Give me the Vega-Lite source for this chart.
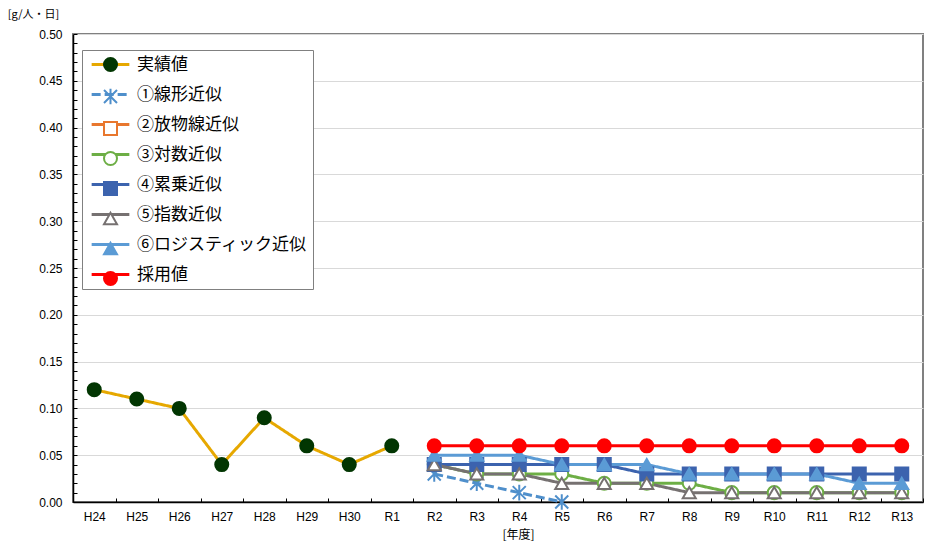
{
  "$schema": "https://vega.github.io/schema/vega-lite/v6.json",
  "width": 850,
  "height": 468,
  "autosize": {"type": "none"},
  "padding": {"left": 73, "top": 34, "right": 4, "bottom": 45},
  "background": "white",
  "config": {
    "view": {"stroke": "#808080", "strokeWidth": 2},
    "font": "Noto Sans CJK JP"
  },
  "data": {
    "values": [
      {"year": "H24", "series": "実績値", "value": 0.12},
      {"year": "H25", "series": "実績値", "value": 0.11},
      {"year": "H26", "series": "実績値", "value": 0.10},
      {"year": "H27", "series": "実績値", "value": 0.04},
      {"year": "H28", "series": "実績値", "value": 0.09},
      {"year": "H29", "series": "実績値", "value": 0.06},
      {"year": "H30", "series": "実績値", "value": 0.04},
      {"year": "R1", "series": "実績値", "value": 0.06},
      {"year": "R2", "series": "①線形近似", "value": 0.03},
      {"year": "R3", "series": "①線形近似", "value": 0.02},
      {"year": "R4", "series": "①線形近似", "value": 0.01},
      {"year": "R5", "series": "①線形近似", "value": 0.00},
      {"year": "R2", "series": "③対数近似", "value": 0.04},
      {"year": "R3", "series": "③対数近似", "value": 0.03},
      {"year": "R4", "series": "③対数近似", "value": 0.03},
      {"year": "R5", "series": "③対数近似", "value": 0.03},
      {"year": "R6", "series": "③対数近似", "value": 0.02},
      {"year": "R7", "series": "③対数近似", "value": 0.02},
      {"year": "R8", "series": "③対数近似", "value": 0.02},
      {"year": "R9", "series": "③対数近似", "value": 0.01},
      {"year": "R10", "series": "③対数近似", "value": 0.01},
      {"year": "R11", "series": "③対数近似", "value": 0.01},
      {"year": "R12", "series": "③対数近似", "value": 0.01},
      {"year": "R13", "series": "③対数近似", "value": 0.01},
      {"year": "R2", "series": "④累乗近似", "value": 0.04},
      {"year": "R3", "series": "④累乗近似", "value": 0.04},
      {"year": "R4", "series": "④累乗近似", "value": 0.04},
      {"year": "R5", "series": "④累乗近似", "value": 0.04},
      {"year": "R6", "series": "④累乗近似", "value": 0.04},
      {"year": "R7", "series": "④累乗近似", "value": 0.03},
      {"year": "R8", "series": "④累乗近似", "value": 0.03},
      {"year": "R9", "series": "④累乗近似", "value": 0.03},
      {"year": "R10", "series": "④累乗近似", "value": 0.03},
      {"year": "R11", "series": "④累乗近似", "value": 0.03},
      {"year": "R12", "series": "④累乗近似", "value": 0.03},
      {"year": "R13", "series": "④累乗近似", "value": 0.03},
      {"year": "R2", "series": "⑤指数近似", "value": 0.04},
      {"year": "R3", "series": "⑤指数近似", "value": 0.03},
      {"year": "R4", "series": "⑤指数近似", "value": 0.03},
      {"year": "R5", "series": "⑤指数近似", "value": 0.02},
      {"year": "R6", "series": "⑤指数近似", "value": 0.02},
      {"year": "R7", "series": "⑤指数近似", "value": 0.02},
      {"year": "R8", "series": "⑤指数近似", "value": 0.01},
      {"year": "R9", "series": "⑤指数近似", "value": 0.01},
      {"year": "R10", "series": "⑤指数近似", "value": 0.01},
      {"year": "R11", "series": "⑤指数近似", "value": 0.01},
      {"year": "R12", "series": "⑤指数近似", "value": 0.01},
      {"year": "R13", "series": "⑤指数近似", "value": 0.01},
      {"year": "R2", "series": "⑥ロジスティック近似", "value": 0.05},
      {"year": "R3", "series": "⑥ロジスティック近似", "value": 0.05},
      {"year": "R4", "series": "⑥ロジスティック近似", "value": 0.05},
      {"year": "R5", "series": "⑥ロジスティック近似", "value": 0.04},
      {"year": "R6", "series": "⑥ロジスティック近似", "value": 0.04},
      {"year": "R7", "series": "⑥ロジスティック近似", "value": 0.04},
      {"year": "R8", "series": "⑥ロジスティック近似", "value": 0.03},
      {"year": "R9", "series": "⑥ロジスティック近似", "value": 0.03},
      {"year": "R10", "series": "⑥ロジスティック近似", "value": 0.03},
      {"year": "R11", "series": "⑥ロジスティック近似", "value": 0.03},
      {"year": "R12", "series": "⑥ロジスティック近似", "value": 0.02},
      {"year": "R13", "series": "⑥ロジスティック近似", "value": 0.02},
      {"year": "R2", "series": "採用値", "value": 0.06},
      {"year": "R3", "series": "採用値", "value": 0.06},
      {"year": "R4", "series": "採用値", "value": 0.06},
      {"year": "R5", "series": "採用値", "value": 0.06},
      {"year": "R6", "series": "採用値", "value": 0.06},
      {"year": "R7", "series": "採用値", "value": 0.06},
      {"year": "R8", "series": "採用値", "value": 0.06},
      {"year": "R9", "series": "採用値", "value": 0.06},
      {"year": "R10", "series": "採用値", "value": 0.06},
      {"year": "R11", "series": "採用値", "value": 0.06},
      {"year": "R12", "series": "採用値", "value": 0.06},
      {"year": "R13", "series": "採用値", "value": 0.06}
    ]
  },
  "encoding": {
    "x": {
      "field": "year",
      "type": "ordinal",
      "bandPosition": 0.5,
      "scale": {
        "type": "band",
        "paddingInner": 0,
        "paddingOuter": 0,
        "domain": ["H24","H25","H26","H27","H28","H29","H30","R1","R2","R3","R4","R5","R6","R7","R8","R9","R10","R11","R12","R13"]
      },
      "axis": {
        "title": "[年度]",
        "titleX": 445,
        "titleY": 32,
        "titleBaseline": "middle",
        "titleFont": "Noto Sans CJK JP",
        "titleFontSize": 12,
        "titleFontWeight": "normal",
        "titleColor": "#000",
        "labelAngle": 0,
        "labelFont": "Liberation Sans",
        "labelFontSize": 12,
        "labelColor": "#000",
        "labelPadding": 13,
        "tickBand": "extent",
        "tickSize": -4,
        "tickColor": "#000",
        "domainColor": "#000",
        "domainWidth": 1.5,
        "grid": false
      }
    },
    "y": {
      "field": "value",
      "type": "quantitative",
      "scale": {"domain": [0, 0.5], "nice": false, "zero": true},
      "axis": {
        "title": "[g/人・日]",
        "titleAngle": 0,
        "titleX": -40,
        "titleY": -20,
        "titleAlign": "center",
        "titleBaseline": "middle",
        "titleFont": "Noto Sans CJK JP",
        "titleFontSize": 11,
        "titleFontWeight": "normal",
        "titleColor": "#000",
        "values": [0,0.01,0.02,0.03,0.04,0.05,0.06,0.07,0.08,0.09,0.1,0.11,0.12,0.13,0.14,0.15,0.16,0.17,0.18,0.19,0.2,0.21,0.22,0.23,0.24,0.25,0.26,0.27,0.28,0.29,0.3,0.31,0.32,0.33,0.34,0.35,0.36,0.37,0.38,0.39,0.4,0.41,0.42,0.43,0.44,0.45,0.46,0.47,0.48,0.49,0.5],
        "labelExpr": "round(datum.value*100) % 5 === 0 ? format(datum.value, '.2f') : ''",
        "labelFont": "Liberation Sans",
        "labelFontSize": 12,
        "labelColor": "#000",
        "labelPadding": 15,
        "tickSize": -4,
        "tickColor": "#000",
        "domainColor": "#000",
        "domainWidth": 1.5,
        "grid": true,
        "gridColor": "#D9D9D9",
        "gridOpacity": {"condition": {"test": "round(datum.value*100) % 5 === 0", "value": 1}, "value": 0}
      }
    }
  },
  "layer": [
    {
      "mark": {"type": "line", "strokeWidth": 3},
      "encoding": {
        "color": {
          "field": "series",
          "type": "nominal",
          "scale": {
            "domain": ["実績値","①線形近似","②放物線近似","③対数近似","④累乗近似","⑤指数近似","⑥ロジスティック近似","採用値"],
            "range": ["#E6A800","#4F8FCB","#E8772E","#6DAE45","#3C63AE","#767171","#5B9BD5","#FF0000"]
          },
          "legend": {
            "title": null,
            "orient": "none",
            "legendX": 9,
            "legendY": 16,
            "padding": 6,
            "strokeColor": "#808080",
            "fillColor": "white",
            "symbolType": "M-2.9,0H2.9",
            "symbolSize": 169,
            "symbolStrokeWidth": 3,
            "symbolOffset": 14,
            "labelOffset": 18,
            "labelFont": "Noto Sans CJK JP",
            "labelFontSize": 17,
            "labelColor": "#000",
            "rowPadding": 12,
            "labelLimit": 300
          }
        },
        "strokeDash": {
          "field": "series",
          "type": "nominal",
          "scale": {
            "domain": ["実績値","①線形近似","②放物線近似","③対数近似","④累乗近似","⑤指数近似","⑥ロジスティック近似","採用値"],
            "range": [[1,0],[9,4],[1,0],[1,0],[1,0],[1,0],[1,0],[1,0]]
          },
          "legend": {
            "title": null,
            "orient": "none",
            "legendX": 9,
            "legendY": 16
          }
        }
      }
    },
    {
      "mark": {"type": "point", "strokeWidth": 2, "size": 170, "opacity": 1},
      "encoding": {
        "shape": {
          "field": "series",
          "type": "nominal",
          "scale": {
            "domain": ["実績値","①線形近似","②放物線近似","③対数近似","④累乗近似","⑤指数近似","⑥ロジスティック近似","採用値"],
            "range": ["circle","M-1,-1L1,1M-1,1L1,-1M0,-1.2L0,1.2","square","circle","square","triangle-up","triangle-up","circle"]
          },
          "legend": {
            "title": null,
            "orient": "none",
            "legendX": 9,
            "legendY": 16,
            "padding": 6,
            "symbolSize": 169,
            "symbolStrokeWidth": 2,
            "symbolOffset": 14,
            "labelExpr": "''",
            "labelOffset": 0,
            "labelFontSize": 17,
            "rowPadding": 9
          }
        },
        "fill": {
          "field": "series",
          "type": "nominal",
          "scale": {
            "domain": ["実績値","①線形近似","②放物線近似","③対数近似","④累乗近似","⑤指数近似","⑥ロジスティック近似","採用値"],
            "range": ["#023602","transparent","#FFFFFF","#FFFFFF","#3C63AE","#FFFFFF","#5B9BD5","#FF0000"]
          },
          "legend": {"title": null, "orient": "none", "legendX": 9, "legendY": 16}
        },
        "stroke": {
          "field": "series",
          "type": "nominal",
          "scale": {
            "domain": ["実績値","①線形近似","②放物線近似","③対数近似","④累乗近似","⑤指数近似","⑥ロジスティック近似","採用値"],
            "range": ["#023602","#4F8FCB","#E8772E","#6DAE45","#3C63AE","#767171","#5B9BD5","#FF0000"]
          },
          "legend": {"title": null, "orient": "none", "legendX": 9, "legendY": 16}
        }
      }
    }
  ],
  "resolve": {
    "legend": {"color": "independent", "strokeDash": "independent", "shape": "independent", "fill": "independent", "stroke": "independent"}
  }
}
